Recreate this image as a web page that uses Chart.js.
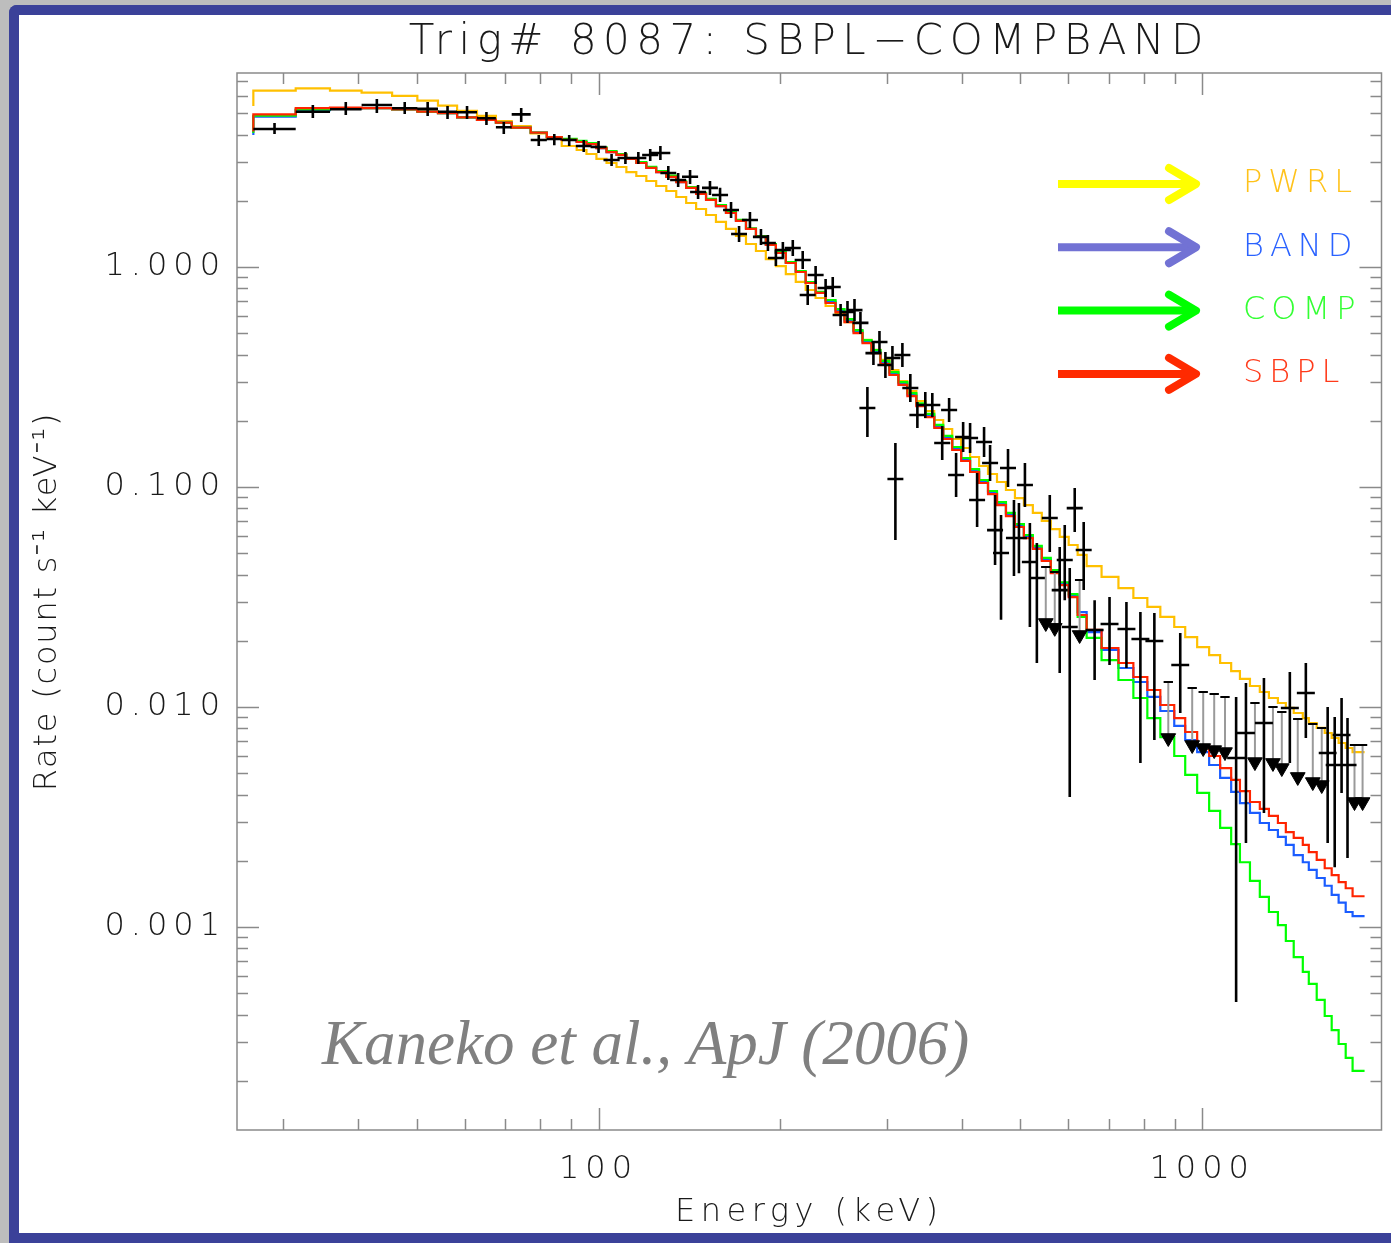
<!DOCTYPE html>
<html><head><meta charset="utf-8">
<script src="https://cdn.jsdelivr.net/npm/chart.js@4.4.1/dist/chart.umd.min.js"></script>
<style>
html,body{margin:0;padding:0;width:1391px;height:1243px;overflow:hidden;background:#bdbdbd;}
#frame{position:absolute;left:9px;top:5px;width:1420px;height:1238px;box-sizing:border-box;border:10px solid #3b4199;border-right:none;border-top-left-radius:8px;background:#fff;}
#c{position:absolute;left:0;top:0;}
</style></head><body>
<div id="frame"></div>
<canvas id="c" width="1391" height="1243"></canvas>
<script>
// ---------- model bin edges (keV) ----------
const modelEdges = [26.8,31.5,35.9,40.5,45.5,50.1,54.2,58.3,62.9,67.6,71.8,77.2,82.1,86.9,92.0,
95.5,99.2,103.1,107.1,111.2,115.5,120.0,124.6,129.5,134.5,139.7,145.1,150.7,156.5,162.6,168.9,175.5,182.3,189.3,196.7,204.3,212.2,220.4,228.9,237.8,247.0,
255.6,264.5,273.7,283.3,293.1,303.3,313.9,324.8,336.1,347.8,359.9,372.4,385.4,398.8,412.6,427.0,441.8,457.2,473.1,489.6,506.6,524.2,542.4,561.3,580.8,601.0,621.9,643.6,
681.3,726.6,769.2,811.3,852.5,899.0,937.4,981.1,1027,1071,1117,1155,1200,1246,1290,1335,1376,1418,1468,1502,1548,1596,1639,1683,1729,1775,1816,1858];

// ---------- model count rates per bin ----------
const pwrl = [5.39,6.33,6.49,6.33,6.20,5.99,5.70,5.41,5.13,4.86,4.61,4.37,4.05,3.85,
3.548,3.402,3.263,3.10,2.97,2.848,2.70,2.592,2.460,2.334,2.215,2.080,1.954,1.835,1.723,1.602,1.49,1.383,1.272,1.182,1.087,1.010,0.929,0.855,0.786,0.723,
0.665,0.611,0.562,0.512,0.466,0.420,0.378,0.340,0.303,0.273,0.246,0.2215,0.2016,0.1835,0.1653,0.1504,0.1369,0.1246,0.1146,0.1054,0.0969,0.0891,0.0828,0.0762,0.0701,0.0644,0.0593,0.0545,
0.0491,0.0437,0.0390,0.0347,0.0313,0.0285,0.0257,0.0231,0.0208,0.0187,0.0172,0.01585,0.01457,0.01341,0.01246,0.01170,0.01099,0.01043,0.00990,0.00939,0.00891,0.00846,0.00803,0.00762,0.00723,0.00686,0.00651,0.00624];
const band = [3.98,4.82,5.17,5.24,5.27,5.21,5.08,5.00,4.79,4.66,4.53,4.30,4.08,3.89,
3.78,3.70,3.62,3.47,3.33,3.23,3.10,2.97,2.82,2.70,2.57,2.43,2.29,2.15,2.02,1.89,1.76,1.62,1.49,1.37,1.259,1.158,1.043,0.949,0.846,0.762,
0.697,0.634,0.571,0.509,0.458,0.412,0.368,0.328,0.296,0.263,0.237,0.211,0.1885,0.1679,0.1497,0.1334,0.1189,0.1060,0.0944,0.0841,0.0750,0.0669,0.0595,0.0531,0.0468,0.0412,0.0364,0.0321,
0.0270,0.0219,0.01816,0.01504,0.01299,0.01111,0.00959,0.00820,0.00708,0.00624,0.00545,0.00476,0.00411,0.00366,0.00330,0.00297,0.00276,0.00257,0.00236,0.00212,0.00197,0.00182,0.00167,0.00154,0.00140,0.00129,0.00117,0.00112];
const comp = [4.07,4.87,5.21,5.27,5.27,5.21,5.08,5.00,4.79,4.66,4.53,4.30,4.08,3.89,
3.82,3.74,3.66,3.50,3.36,3.26,3.13,3.00,2.85,2.73,2.60,2.45,2.31,2.17,2.04,1.91,1.78,1.64,1.50,1.38,1.27,1.17,1.053,0.958,0.854,0.770,
0.708,0.644,0.580,0.517,0.465,0.419,0.374,0.333,0.300,0.267,0.240,0.215,0.1914,0.1706,0.1520,0.1355,0.1207,0.1076,0.0959,0.0854,0.0762,0.0679,0.0605,0.0540,0.0476,0.0419,0.0369,0.0326,
0.0257,0.0206,0.01635,0.01327,0.01099,0.00891,0.00730,0.00599,0.00491,0.00407,0.00337,0.00282,0.00238,0.00197,0.00162,0.00137,0.00117,0.00102,0.000864,0.000730,0.000625,0.000551,0.000466,0.000394,0.000340,0.000294,0.000254,0.000222];
const sbpl = [4.13,4.94,5.27,5.30,5.27,5.21,5.08,5.00,4.79,4.66,4.53,4.30,4.08,3.89,
3.78,3.70,3.62,3.47,3.33,3.23,3.10,2.97,2.82,2.70,2.57,2.43,2.29,2.15,2.02,1.89,1.76,1.62,1.49,1.37,1.259,1.158,1.043,0.949,0.846,0.762,
0.686,0.624,0.562,0.501,0.451,0.406,0.362,0.323,0.291,0.259,0.233,0.208,0.1855,0.1653,0.1473,0.1313,0.1170,0.1043,0.0929,0.0828,0.0738,0.0658,0.0586,0.0523,0.0461,0.0406,0.0358,0.0316,
0.0262,0.0224,0.01854,0.01585,0.01369,0.01195,0.01021,0.00891,0.00770,0.00672,0.00599,0.00528,0.00466,0.00415,0.00370,0.00344,0.00320,0.00297,0.00270,0.00254,0.00236,0.00219,0.00202,0.00185,0.00172,0.00160,0.00150,0.00138];

// ---------- observed spectrum: channel energy range, rate, error range ----------
const dataLo = [26.8,31.5,35.9,40.5,45.5,50.1,54.2,58.3,62.9,67.6,71.8,77.2,82.1,86.9,
91.7,97.0,101.9,107.5,112.9,118.1,121.9,126.6,131.4,137.5,141.8,148.4,154.2,160.8,165.8,172.8,180.2,185.1,190.8,195.9,203.5,211.3,215.4,222.0,230.6,237.0,
244.2,250.7,257.5,263.4,270.5,276.8,283.2,289.7,297.6,301.0,309.1,318.6,327.3,337.3,346.5,359.8,369.4,379.4,389.7,400.2,411.1,422.1,431.9,440.2,450.3,462.5,473.1,482.2,493.3,502.7,516.3,542.4,563.3,574.2,585.3,596.5,617.3,
641.2,678.7,723.9,763.5,805.3,888.9,1100,1142,1223,1350,1435,1560,1602,1645,1682];
const dataHi = [31.5,35.9,40.5,45.5,50.1,54.2,58.3,62.9,67.6,71.8,77.2,82.1,86.9,92.0,
97.4,103.1,108.4,114.2,120.0,125.6,131.5,134.5,139.7,146.2,150.7,157.7,163.9,170.9,176.2,183.7,191.6,196.7,202.8,208.3,216.3,224.7,229.0,236.0,245.2,251.9,
259.6,266.5,273.7,280.0,287.5,294.2,301.1,308.0,316.3,319.9,328.6,338.7,347.9,358.6,368.3,382.5,392.7,403.3,414.3,425.4,436.9,448.7,459.1,467.9,478.7,491.6,502.9,512.5,524.4,534.4,548.8,576.5,598.8,610.4,622.1,634.1,656.1,
686.6,726.8,775.2,817.6,862.3,951.8,1178,1223,1310,1446,1537,1670,1716,1761,1802];
const dataRate = [4.24,5.08,5.21,5.45,5.27,5.23,5.08,5.05,4.74,4.32,4.94,3.78,3.82,3.78,
3.548,3.513,3.064,3.129,3.129,3.23,3.298,2.675,2.486,2.57,2.192,2.29,2.125,1.816,1.413,1.636,1.37,1.286,1.099,1.195,1.220,1.076,0.746,0.920,0.803,0.811,
0.605,0.624,0.637,0.557,0.2286,0.406,0.456,0.3585,0.386,0.1087,0.398,0.282,0.2125,0.236,0.236,0.1585,0.2239,0.1134,0.1688,0.1670,0.0873,0.1601,0.1285,0.0637,0.0501,0.1220,0.0586,0.0586,0.1021,0.0456,0.0386,0.0723,0.0340,0.0466,0.0231,0.0802,0.0517,
0.0224,0.02384,0.02262,0.02037,0.01995,0.01552,0.00586,0.00762,0.00846,0.00990,0.01158,0.00618,0.00545,0.00746,0.00545];
const dataRateHi = [4.51,5.45,5.62,5.80,5.62,5.62,5.39,5.39,5.06,4.56,5.28,3.98,4.02,3.98,
3.78,3.739,3.263,3.33,3.33,3.439,3.548,2.878,2.675,2.760,2.359,2.460,2.29,1.975,1.536,1.778,1.49,1.398,1.195,1.299,1.327,1.182,0.828,1.010,0.882,0.901,
0.679,0.701,0.715,0.624,0.2848,0.461,0.512,0.411,0.437,0.1585,0.451,0.3264,0.2434,0.2703,0.2675,0.1894,0.2538,0.1427,0.1975,0.1954,0.1158,0.1874,0.1552,0.0920,0.0746,0.1488,0.0873,0.0846,0.1285,0.0686,0.0557,0.0920,0.0534,0.0672,0.0428,0.0990,0.0693,
0.0306,0.0316,0.0300,0.0270,0.02675,0.02169,0.01111,0.01285,0.01354,0.01442,0.01585,0.0100,0.00901,0.01099,0.00891];
const dataRateLo = [4.02,4.76,4.91,5.01,4.96,4.86,4.71,4.71,4.42,4.02,4.56,3.55,3.58,3.55,
3.33,3.298,2.878,2.939,2.939,3.032,3.064,2.486,2.310,2.384,2.037,2.125,1.975,1.670,1.299,1.504,1.259,1.182,1.010,1.099,1.122,0.979,0.672,0.837,0.731,0.731,
0.539,0.557,0.568,0.496,0.1688,0.3585,0.406,0.313,0.340,0.0574,0.351,0.2434,0.1855,0.2059,0.208,0.1327,0.1975,0.0901,0.1442,0.1427,0.0658,0.1369,0.1065,0.0442,0.0249,0.1000,0.0394,0.0406,0.0811,0.0231,0.01585,0.0506,0.01427,0.0306,0.00390,0.0624,0.0340,
0.01327,0.01552,0.01504,0.00557,0.00708,0.00939,0.000456,0.00241,0.00330,0.00557,0.00723,0.00241,0.00187,0.00407,0.00206];

// ---------- upper limits ----------
const ulE = [550.7,569.9,626.6,878.8,962.7,1004,1047,1091,1223,1310,1355,1440,1525,1578,1788,1844];
const ulTop = [0.0433,0.0411,0.0378,0.01299,0.0122,0.0117,0.01146,0.01111,0.01043,0.0100,0.00949,0.00882,0.00837,0.00803,0.00672,0.00672];
const ulArrow = [0.0241,0.0229,0.02125,0.00723,0.00672,0.00651,0.00637,0.00624,0.00562,0.00557,0.00528,0.00481,0.00456,0.00442,0.00370,0.00370];

// ---------- axes ----------
const xMin = 25.18, xMax = 1982, yMin = 1.195e-4, yMax = 7.617;
const xTicks = [30,40,50,60,70,80,90,100,200,300,400,500,600,700,800,900,1000];
const xMajor = [100,1000];
const xLabels = {100:'100',1000:'1000'};
const yTicks = [0.0002,0.0003,0.0004,0.0005,0.0006,0.0007,0.0008,0.0009,0.001,0.002,0.003,0.004,0.005,0.006,0.007,0.008,0.009,0.01,0.02,0.03,0.04,0.05,0.06,0.07,0.08,0.09,0.1,0.2,0.3,0.4,0.5,0.6,0.7,0.8,0.9,1,2,3,4,5,6,7];
const yMajor = [0.001,0.01,0.1,1];
const yLabels = {0.001:'0.001',0.01:'0.010',0.1:'0.100',1:'1.000'};

const titleText = 'Trig# 8087: SBPL\u2212COMPBAND';
const xTitle = 'Energy (keV)';
const yTitle = 'Rate (count s\u207B\u00B9 keV\u207B\u00B9)';
const credit = 'Kaneko et al., ApJ (2006)';
const legendNames = ['PWRL','BAND','COMP','SBPL'];
const legendArrowColors = ['#ffff00','#7272d4','#00ff00','#ff2a00'];
const legendTextColors = ['#ffc21a','#2a62ff','#33ff33','#ff3a1a'];

// ---------- build point lists ----------
function steps(vals){
  const pts = vals.map((v,i)=>({x:modelEdges[i], y:v}));
  pts.push({x:modelEdges[vals.length], y:vals[vals.length-1]});
  return pts;
}
const crossPts = [];
for (let i=0;i<dataRate.length;i++){
  const c = Math.sqrt(dataLo[i]*dataHi[i]);
  crossPts.push({x:dataLo[i],y:dataRate[i]},{x:dataHi[i],y:dataRate[i]},{x:dataHi[i],y:null},
                {x:c,y:dataRateHi[i]},{x:c,y:dataRateLo[i]},{x:c,y:null});
}
const ulLinePts = [], ulBarPts = [], ulTriPts = [];
const barHalf = 1.018;
for (let i=0;i<ulE.length;i++){
  ulLinePts.push({x:ulE[i],y:ulTop[i]},{x:ulE[i],y:ulArrow[i]},{x:ulE[i],y:null});
  ulBarPts.push({x:ulE[i]/barHalf,y:ulTop[i]},{x:ulE[i]*barHalf,y:ulTop[i]},{x:ulE[i],y:null});
  ulTriPts.push({x:ulE[i],y:ulArrow[i]});
}

const base = {pointRadius:0,pointHoverRadius:0,fill:false,tension:0,spanGaps:false};
const FONT = '"DejaVu Sans"';

const decor = {
  id:'decor',
  beforeDraw(chart){ chart.ctx.letterSpacing = '6px'; },
  afterDraw(chart){
    const {ctx, chartArea:a, scales:{x,y}} = chart;
    ctx.save();
    ctx.letterSpacing = '0px';
    ctx.strokeStyle = '#8a8a8a'; ctx.lineWidth = 1.5;
    ctx.strokeRect(a.left, a.top, a.right-a.left, a.bottom-a.top);
    ctx.beginPath();
    xTicks.forEach(v=>{
      const px = Math.round(x.getPixelForValue(v))+0.5, L = xMajor.includes(v)?22:11;
      ctx.moveTo(px,a.bottom); ctx.lineTo(px,a.bottom-L);
      ctx.moveTo(px,a.top); ctx.lineTo(px,a.top+L);
    });
    yTicks.forEach(v=>{
      const py = Math.round(y.getPixelForValue(v))+0.5, L = yMajor.includes(v)?22:11;
      ctx.moveTo(a.left,py); ctx.lineTo(a.left+L,py);
      ctx.moveTo(a.right,py); ctx.lineTo(a.right-L,py);
    });
    ctx.stroke();

    ctx.fillStyle = '#1a1a1a';
    // title
    ctx.font = '200 42px '+FONT; ctx.letterSpacing='6.5px';
    ctx.textAlign='center'; ctx.textBaseline='alphabetic';
    ctx.fillText(titleText, (a.left+a.right)/2, 54);
    // x title
    ctx.font = '200 32px '+FONT; ctx.letterSpacing='5.5px';
    ctx.textBaseline='middle';
    ctx.fillText(xTitle, (a.left+a.right)/2, 1213);
    // y title
    ctx.save();
    ctx.translate(48,(a.top+a.bottom)/2); ctx.rotate(-Math.PI/2);
    ctx.font = '200 32px '+FONT; ctx.letterSpacing='1.8px';
    ctx.fillText(yTitle,0,0);
    ctx.restore();

    // legend arrows
    legendNames.forEach((n,i)=>{
      const yy = 184 + i*63.3;
      ctx.strokeStyle = legendArrowColors[i]; ctx.lineWidth = 8;
      ctx.lineCap='butt';
      ctx.beginPath(); ctx.moveTo(1058,yy); ctx.lineTo(1192,yy); ctx.stroke();
      ctx.lineCap='round'; ctx.lineJoin='round';
      ctx.beginPath(); ctx.moveTo(1169,yy-16); ctx.lineTo(1196,yy); ctx.lineTo(1169,yy+16); ctx.stroke();
      ctx.fillStyle = legendTextColors[i];
      ctx.font = '200 32px '+FONT; ctx.letterSpacing='6px';
      ctx.textAlign='left'; ctx.textBaseline='middle';
      ctx.fillText(n,1243,yy);
    });

    // credit
    ctx.fillStyle = '#808080'; ctx.letterSpacing='0px';
    ctx.font = 'italic 63px "Liberation Serif"';
    ctx.textAlign='left'; ctx.textBaseline='alphabetic';
    ctx.fillText(credit, 322, 1064);
    ctx.restore();
    ctx.letterSpacing='0px';
  }
};

new Chart(document.getElementById('c'), {
  type:'line',
  data:{datasets:[
    Object.assign({label:'data', data:crossPts, borderColor:'#000', borderWidth:2.6, order:0}, base),
    Object.assign({label:'ulbar', data:ulBarPts, borderColor:'#000', borderWidth:2, order:0}, base),
    Object.assign({label:'ul', data:ulLinePts, borderColor:'#9a9a9a', borderWidth:2, order:1}, base),
    Object.assign({label:'ularrow', data:ulTriPts, showLine:false, order:0}, base,
      {pointRadius:8.5, pointStyle:'triangle', pointRotation:180, pointBackgroundColor:'#000', pointBorderColor:'#000', pointBorderWidth:1}),
    Object.assign({label:'SBPL', data:steps(sbpl), borderColor:'#ff2400', borderWidth:2.2, stepped:'after', order:2}, base),
    Object.assign({label:'COMP', data:steps(comp), borderColor:'#00ff00', borderWidth:2.2, stepped:'after', order:3}, base),
    Object.assign({label:'BAND', data:steps(band), borderColor:'#1a5cff', borderWidth:2.2, stepped:'after', order:4}, base),
    Object.assign({label:'PWRL', data:steps(pwrl), borderColor:'#ffc000', borderWidth:2.2, stepped:'after', order:5}, base)
  ]},
  options:{
    responsive:false, animation:false, devicePixelRatio:1,
    layout:{padding:{left:0,right:5,top:73,bottom:0}},
    plugins:{legend:{display:false}, tooltip:{enabled:false}, title:{display:false}},
    scales:{
      x:{type:'logarithmic', min:xMin, max:xMax,
         afterBuildTicks:(s)=>{s.ticks = xTicks.map(v=>({value:v}));},
         afterFit:(s)=>{s.height = 113;},
         ticks:{autoSkip:false, maxRotation:0, padding:20, color:'#1a1a1a',
                font:{family:FONT, size:32, weight:'200'},
                callback:(v)=> xLabels[v] || ''},
         grid:{display:false, drawTicks:false}, border:{display:false}},
      y:{type:'logarithmic', min:yMin, max:yMax,
         afterBuildTicks:(s)=>{s.ticks = yTicks.map(v=>({value:v}));},
         afterFit:(s)=>{s.width = 237;},
         ticks:{autoSkip:false, padding:11, color:'#1a1a1a',
                font:{family:FONT, size:32, weight:'200'},
                callback:(v)=> yLabels[v] || ''},
         grid:{display:false, drawTicks:false}, border:{display:false}}
    }
  },
  plugins:[decor]
});
</script></body></html>
